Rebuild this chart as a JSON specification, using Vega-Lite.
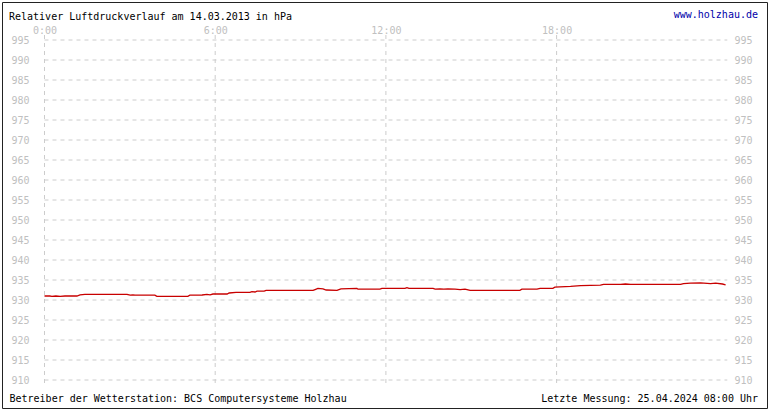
{
  "$schema": "https://vega.github.io/schema/vega-lite/v6.json",
  "width": 765,
  "height": 406,
  "autosize": {"type": "none"},
  "padding": {"left": 2, "top": 2, "right": 3, "bottom": 2},
  "background": "#ffffff",
  "title": {
    "text": "Relativer Luftdruckverlauf am 14.03.2013 in hPa",
    "anchor": "start",
    "frame": "group",
    "orient": "top",
    "offset": -15.5,
    "baseline": "alphabetic",
    "dx": 7,
    "dy": 12,
    "font": "DejaVu Sans Mono",
    "fontSize": 10,
    "fontWeight": "normal",
    "color": "#000000"
  },
  "config": {
    "view": {"stroke": "#222222", "strokeWidth": 1},
    "axis": {
      "domain": false,
      "ticks": false,
      "tickSize": 0,
      "grid": false,
      "labelColor": "#c0c0c0",
      "labelFont": "DejaVu Sans Mono",
      "labelFontSize": 10,
      "labelOverlap": false,
      "labelFlush": false,
      "titleFont": "DejaVu Sans Mono",
      "titleFontSize": 10,
      "titleFontWeight": "normal",
      "titleColor": "#000000"
    }
  },
  "datasets": {
    "druck": [
      {"stunde": 0, "hPa": 931.0},
      {"stunde": 0.19, "hPa": 931.0},
      {"stunde": 0.26, "hPa": 930.9},
      {"stunde": 0.40, "hPa": 931.0},
      {"stunde": 0.55, "hPa": 930.9},
      {"stunde": 0.72, "hPa": 931.0},
      {"stunde": 1.14, "hPa": 931.0},
      {"stunde": 1.25, "hPa": 931.3},
      {"stunde": 1.42, "hPa": 931.4},
      {"stunde": 2.90, "hPa": 931.4},
      {"stunde": 3.01, "hPa": 931.2},
      {"stunde": 3.11, "hPa": 931.3},
      {"stunde": 3.18, "hPa": 931.2},
      {"stunde": 3.88, "hPa": 931.2},
      {"stunde": 3.95, "hPa": 930.9},
      {"stunde": 5.04, "hPa": 930.9},
      {"stunde": 5.11, "hPa": 931.2},
      {"stunde": 5.54, "hPa": 931.25},
      {"stunde": 5.71, "hPa": 931.4},
      {"stunde": 5.82, "hPa": 931.3},
      {"stunde": 5.92, "hPa": 931.5},
      {"stunde": 6.42, "hPa": 931.5},
      {"stunde": 6.49, "hPa": 931.75},
      {"stunde": 6.73, "hPa": 931.9},
      {"stunde": 7.22, "hPa": 931.9},
      {"stunde": 7.29, "hPa": 932.1},
      {"stunde": 7.40, "hPa": 932.0},
      {"stunde": 7.47, "hPa": 932.2},
      {"stunde": 7.72, "hPa": 932.2},
      {"stunde": 7.79, "hPa": 932.4},
      {"stunde": 8.63, "hPa": 932.4},
      {"stunde": 9.44, "hPa": 932.4},
      {"stunde": 9.51, "hPa": 932.6},
      {"stunde": 9.61, "hPa": 932.9},
      {"stunde": 9.79, "hPa": 932.8},
      {"stunde": 9.90, "hPa": 932.5},
      {"stunde": 10.28, "hPa": 932.4},
      {"stunde": 10.35, "hPa": 932.6},
      {"stunde": 10.42, "hPa": 932.8},
      {"stunde": 10.98, "hPa": 932.9},
      {"stunde": 11.02, "hPa": 932.7},
      {"stunde": 11.79, "hPa": 932.7},
      {"stunde": 11.86, "hPa": 932.9},
      {"stunde": 12.67, "hPa": 932.9},
      {"stunde": 12.74, "hPa": 933.1},
      {"stunde": 12.81, "hPa": 932.9},
      {"stunde": 13.66, "hPa": 932.9},
      {"stunde": 13.73, "hPa": 932.7},
      {"stunde": 13.90, "hPa": 932.8},
      {"stunde": 14.04, "hPa": 932.7},
      {"stunde": 14.18, "hPa": 932.8},
      {"stunde": 14.43, "hPa": 932.7},
      {"stunde": 14.61, "hPa": 932.6},
      {"stunde": 14.78, "hPa": 932.7},
      {"stunde": 14.96, "hPa": 932.4},
      {"stunde": 16.71, "hPa": 932.4},
      {"stunde": 16.78, "hPa": 932.7},
      {"stunde": 17.31, "hPa": 932.7},
      {"stunde": 17.42, "hPa": 932.9},
      {"stunde": 17.87, "hPa": 932.9},
      {"stunde": 17.94, "hPa": 933.2},
      {"stunde": 18.12, "hPa": 933.3},
      {"stunde": 18.49, "hPa": 933.4},
      {"stunde": 18.84, "hPa": 933.6},
      {"stunde": 19.54, "hPa": 933.7},
      {"stunde": 19.65, "hPa": 933.9},
      {"stunde": 20.25, "hPa": 933.9},
      {"stunde": 20.42, "hPa": 934.0},
      {"stunde": 20.60, "hPa": 933.9},
      {"stunde": 22.36, "hPa": 933.9},
      {"stunde": 22.46, "hPa": 934.1},
      {"stunde": 22.71, "hPa": 934.2},
      {"stunde": 23.06, "hPa": 934.3},
      {"stunde": 23.41, "hPa": 934.1},
      {"stunde": 23.59, "hPa": 934.2},
      {"stunde": 23.83, "hPa": 934.0},
      {"stunde": 23.94, "hPa": 933.8}
    ],
    "hlinien": [
      {"hPa": 910}, {"hPa": 915}, {"hPa": 920}, {"hPa": 925}, {"hPa": 930},
      {"hPa": 935}, {"hPa": 940}, {"hPa": 945}, {"hPa": 950}, {"hPa": 955},
      {"hPa": 960}, {"hPa": 965}, {"hPa": 970}, {"hPa": 975}, {"hPa": 980},
      {"hPa": 985}, {"hPa": 990}, {"hPa": 995}
    ],
    "vlinien": [
      {"stunde": 0}, {"stunde": 6}, {"stunde": 12}, {"stunde": 18}
    ]
  },
  "resolve": {"axis": {"y": "independent", "x": "independent"}},
  "layer": [
    {
      "data": {"name": "hlinien"},
      "mark": {"type": "rule", "color": "#cccccc", "strokeWidth": 1, "strokeDash": [4, 4]},
      "encoding": {
        "y": {
          "field": "hPa", "type": "quantitative",
          "scale": {"domain": [903, 1004.5], "nice": false, "zero": false},
          "axis": {
            "orient": "left",
            "values": [910, 915, 920, 925, 930, 935, 940, 945, 950, 955, 960, 965, 970, 975, 980, 985, 990, 995],
            "labelAlign": "right",
            "labelBaseline": "middle",
            "labelPadding": -27,
            "title": "Betreiber der Wetterstation: BCS Computersysteme Holzhau",
            "titleAngle": 0,
            "titleAlign": "left",
            "titleBaseline": "alphabetic",
            "titleX": 7,
            "titleY": 399.5
          }
        },
        "x": {"datum": 0, "type": "quantitative", "axis": null},
        "x2": {"datum": 24}
      }
    },
    {
      "data": {"name": "vlinien"},
      "mark": {"type": "rule", "color": "#cccccc", "strokeWidth": 1, "strokeDash": [4, 4]},
      "encoding": {
        "x": {"field": "stunde", "type": "quantitative", "axis": null},
        "y": {"datum": 996.25, "type": "quantitative", "axis": null},
        "y2": {"datum": 908.75}
      }
    },
    {
      "data": {"name": "druck"},
      "mark": {"type": "line", "color": "#c80000", "strokeWidth": 1.3, "interpolate": "linear"},
      "encoding": {
        "x": {
          "field": "stunde", "type": "quantitative",
          "scale": {"domain": [-1.4938, 25.3954], "nice": false, "zero": false},
          "axis": {
            "orient": "top",
            "values": [0, 6, 12, 18],
            "labelExpr": "datum.value + ':00'",
            "labelAlign": "center",
            "labelBaseline": "middle",
            "labelPadding": -28,
            "title": "www.holzhau.de",
            "titleColor": "#0000aa",
            "titleAlign": "right",
            "titleBaseline": "alphabetic",
            "titleX": 755.5,
            "titleY": 15.5
          }
        },
        "y": {
          "field": "hPa", "type": "quantitative",
          "axis": {
            "orient": "right",
            "values": [910, 915, 920, 925, 930, 935, 940, 945, 950, 955, 960, 965, 970, 975, 980, 985, 990, 995],
            "labelAlign": "left",
            "labelBaseline": "middle",
            "labelPadding": -33,
            "title": "Letzte Messung: 25.04.2024 08:00 Uhr",
            "titleAngle": 0,
            "titleAlign": "right",
            "titleBaseline": "alphabetic",
            "titleX": -9.5,
            "titleY": 399.5
          }
        }
      }
    }
  ]
}
